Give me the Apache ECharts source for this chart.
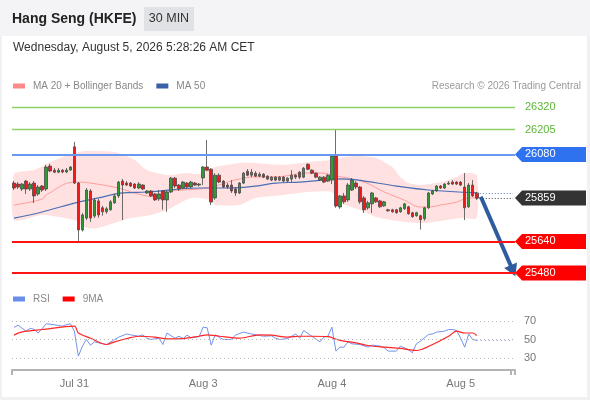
<!DOCTYPE html>
<html><head><meta charset="utf-8">
<script src="https://cdn.jsdelivr.net/npm/echarts@6/dist/echarts.min.js"></script>
<style>html,body{margin:0;padding:0;background:#fff}#c{width:590px;height:400px}</style>
</head><body><div id="c"></div>
<script>
// ---------- DATA ----------
const slotCount = 125;
const dayLabels = ['Jul 31', 'Aug 3', 'Aug 4', 'Aug 5'];
const dayStartIndex = [15, 47, 79, 111];

const opens = [25935,25930,25905,25945,25905,25935,25880,25920,25905,26021,26000,25990,26000,25991,26001,26118,25935,25698,25758,25895,25768,25845,25810,25790,25800,25835,25870,25945,25935,25935,25930,25910,25925,25885,25895,25880,25855,25895,25850,25890,25960,25925,25910,25935,25915,25935,25925,25961,26016,26005,25860,25975,25945,25925,25925,25905,25885,25935,25995,25975,25985,25970,25980,25970,25950,25965,25950,25965,25945,25955,25975,25990,25965,26030,26000,25985,25950,25965,25945,25950,26072,25814,25870,25850,25900,25935,25915,25860,25810,25830,25860,25845,25820,25800,25800,25800,25790,25805,25815,25785,25770,25770,25755,25810,25880,25895,25920,25910,25930,25940,25940,25940,25915,25815,25925,25885];
const closes = [25910,25915,25930,25905,25930,25870,25915,25900,26016,25996,25990,26000,25991,26001,26016,25935,25698,25774,25900,25758,25849,25774,25790,25805,25840,25870,25940,25925,25925,25920,25910,25930,25905,25895,25870,25850,25880,25850,25890,25960,25920,25905,25940,25915,25940,25925,25930,26016,26000,25839,25975,25940,25915,25915,25895,25885,25935,25985,25975,25990,25970,25980,25965,25955,25965,25950,25965,25945,25960,25975,25965,25965,26010,26005,25985,25965,25965,25940,25975,26072,25819,25870,25840,25925,25950,25915,25840,25800,25835,25885,25840,25815,25840,25795,25790,25785,25810,25830,25780,25765,25785,25750,25810,25885,25895,25920,25910,25930,25935,25930,25930,25925,25810,25925,25870,25859];
const lows = [25900,25905,25895,25880,25895,25834,25870,25890,25895,25990,25985,25985,25985,25985,25996,25930,25637,25690,25748,25738,25758,25760,25770,25780,25795,25830,25860,25748,25920,25915,25905,25905,25900,25880,25865,25845,25845,25800,25790,25885,25910,25895,25905,25905,25910,25920,25918,25925,25995,25824,25850,25935,25910,25905,25885,25870,25880,25930,25970,25965,25965,25965,25960,25950,25945,25945,25945,25940,25940,25940,25955,25955,25960,26000,25980,25960,25945,25935,25940,25930,25810,25805,25830,25840,25895,25905,25830,25784,25800,25784,25835,25810,25815,25790,25785,25780,25785,25800,25775,25760,25765,25700,25745,25805,25875,25890,25905,25905,25925,25925,25925,25920,25748,25810,25865,25850];
const highs = [25946,25940,25935,25951,25940,25945,25925,25925,26027,26032,26011,26011,26006,26011,26021,26143,25940,25784,25910,25905,25860,25855,25820,25815,25850,25880,25946,25956,25945,25940,25935,25940,25930,25900,25900,25885,25900,25900,25895,25966,25966,25930,25945,25940,25946,25940,25935,26021,26153,26011,25985,25985,25950,25935,25950,25915,25940,25991,26006,26006,25995,25990,25985,25975,25970,25970,25970,25970,25965,26000,25980,25995,26016,26035,26005,25990,25970,25970,25980,26077,26204,25875,25885,25935,25960,25945,25920,25870,25845,25890,25865,25850,25845,25805,25805,25805,25815,25835,25820,25790,25790,25775,25815,25890,25900,25925,25925,25935,25945,25950,25945,25945,25986,25935,25950,25890];

// indicator samples: [candle index, value]
const ma20 = [[0,25824],[7,25854],[8,25875],[15,25940],[16,25940],[19,25935],[26,25910],[29,25890],[33,25870],[35,25865],[37,25890],[42,25900],[46,25905],[50,25920],[55,25951],[60,25966],[65,25966],[69,25976],[72,25986],[76,25986],[80,25971],[87,25940],[92,25890],[97,25849],[101,25814],[103,25814],[106,25824],[110,25839],[113,25860],[115,25860]];
const ma50 = [[0,25758],[7,25789],[15,25834],[21,25860],[27,25885],[33,25890],[46,25910],[53,25910],[60,25920],[65,25935],[71,25940],[77,25951],[80,25956],[85,25951],[95,25920],[103,25900],[115,25885]];
const upperBand = [[0,25981],[5,26001],[9,26042],[15,26087],[18,26097],[25,26092],[30,26052],[33,26001],[38,25976],[43,25986],[46,25981],[50,26016],[56,26037],[60,26037],[67,26027],[73,26042],[79,26052],[82,26067],[86,26072],[90,26062],[94,26016],[96,25966],[98,25935],[101,25925],[106,25940],[110,25966],[112,25986],[115,25976]];
const lowerBand = [[0,25748],[7,25774],[15,25748],[18,25708],[21,25708],[29,25758],[34,25774],[38,25799],[44,25860],[49,25849],[50,25824],[56,25824],[60,25860],[67,25875],[73,25890],[79,25890],[81,25834],[86,25799],[90,25763],[97,25738],[102,25733],[106,25743],[111,25758],[115,25758]];

const rsi = [[0,63],[1,65.5],[3,59],[4,62],[5,61],[6,57],[8,67],[10,66],[12,64.4],[13,66],[14,67],[15,59],[16,32],[17,42.8],[18,50],[19,43.9],[20,47.5],[21,46.4],[23,44.6],[25,50],[26,52.5],[28,56],[29,55],[31,53.5],[32,55],[33,51.4],[34,50],[36,51.4],[37,44.6],[38,57],[40,51.4],[41,53.5],[42,51],[43,54.7],[44,52],[46,53],[47,63.3],[48,62.6],[49,43.9],[50,55],[52,50],[54,50],[55,54.7],[57,58],[59,56],[62,53.5],[64,54],[65,51.4],[66,50],[68,51],[69,53.5],[70,56],[71,51.4],[72,59.7],[74,53.5],[76,47.5],[77,52.5],[78,53.5],[79,63.3],[80,37.4],[81,41.7],[82,41.7],[83,47.5],[84,45.3],[86,44.6],[88,41.7],[89,43.9],[91,42.8],[92,41],[93,37.4],[95,37.4],[96,42.8],[98,39.2],[99,35.6],[100,45.3],[101,48.2],[103,55.4],[104,56],[105,58],[107,59],[108,60.8],[109,60.8],[110,59.7],[111,51.4],[112,41.7],[113,56],[114,50],[115,49]];
const rsiMa9 = [[0,54.7],[2,58.3],[7,60.8],[15,64.4],[16,57],[19,51.4],[23,44.6],[25,47.5],[28,51],[31,53.5],[35,52.5],[38,50.7],[42,51],[46,53.5],[48,55],[51,53.5],[56,51.4],[61,55],[64,54.7],[68,52.5],[71,53.5],[74,53.5],[78,53],[81,49],[85,46.4],[88,43.5],[92,41.7],[96,40.3],[100,38.1],[104,44.6],[108,53.5],[110,59],[112,57],[114,57],[115,54.3]];
const rsiLevels = [70, 50, 30];

const levelValues = [26320, 26205, 26080, 25859, 25640, 25480];
const levelKinds = ['res', 'res', 'pivot', 'last', 'sup', 'sup'];
const lastMa50 = 25882;
const arrowFrom = [116, 25866];
const arrowTo = [124, 25492];
const lastIndex = 115;

// ---------- STYLES ----------
const FONT = 'Arial, "Liberation Sans", sans-serif';
const levelStyles = {
  res:   { line: '#8fd064', width: 1.3, box: null,      text: '#5db536' },
  pivot: { line: '#6a97f0', width: 2, box: '#2f72f0', text: '#fff' },
  last:  { line: null,      width: 0, box: '#333333', text: '#fff' },
  sup:   { line: '#ff1414', width: 2, box: '#ff0000', text: '#fff' }
};

const categories = Array.from({ length: slotCount }, (_, i) => {
  const k = dayStartIndex.indexOf(i);
  return k >= 0 ? dayLabels[k] : '';
});
const candleData = opens.map((o, i) => [o, closes[i], lows[i], highs[i]]);

// horizontal level lines, drawn as a separate line-less series' markLine
const levelLines = [];
levelValues.forEach((v, k) => {
  const st = levelStyles[levelKinds[k]];
  if (st.line) levelLines.push({ yAxis: v, lineStyle: { color: st.line, width: st.width, type: 'solid', opacity: 1 } });
});
const pointerLines = [
  [{ coord: [lastIndex, levelValues[3]], lineStyle: { color: '#444', width: 1, type: [1, 2] } }, { coord: [slotCount - 1, levelValues[3]] }],
  [{ coord: [lastIndex, lastMa50], lineStyle: { color: '#5b80c4', width: 1, type: [1, 2] } }, { coord: [slotCount - 1, lastMa50] }],
  [{ coord: arrowFrom, symbol: 'none', lineStyle: { color: '#2e5c9e', width: 4, type: 'solid' } }, { coord: arrowTo, symbol: 'triangle', symbolSize: [14, 12] }]
];

function renderBand(params, api) {
  const pts = [];
  upperBand.forEach(p => pts.push(api.coord(p)));
  for (let k = lowerBand.length - 1; k >= 0; k--) pts.push(api.coord(lowerBand[k]));
  return { type: 'polygon', shape: { points: pts, smooth: 0.2 }, style: { fill: 'rgba(255,165,165,0.33)' } };
}
function renderLevelTag(params, api) {
  const value = api.value(1);
  const st = levelStyles[levelKinds[api.value(2)]];
  const cs = params.coordSys;
  const x0 = cs.x + cs.width;
  const y = api.coord([0, value])[1];
  const children = [];
  if (st.box) children.push({ type: 'polygon', shape: { points: [[x0, y], [x0 + 7, y - 7.5], [x0 + 71, y - 7.5], [x0 + 71, y + 7.5], [x0 + 7, y + 7.5]] }, style: { fill: st.box } });
  children.push({ type: 'text', style: { text: String(value), x: x0 + 10, y: y, verticalAlign: 'middle', fill: st.text, font: '11px ' + FONT } });
  return { type: 'group', children };
}

const chart = echarts.init(document.getElementById('c'), null, { renderer: 'canvas' });
chart.setOption({
  animation: false,
  backgroundColor: '#fff',
  textStyle: { fontFamily: FONT },
  graphic: [
    { type: 'rect', z: -10, shape: { x: 0, y: 0, width: 590, height: 400 }, style: { fill: '#f1f1f3' } },
    { type: 'rect', z: -9, shape: { x: 2, y: 36, width: 585, height: 361 }, style: { fill: '#fff' } },
    { type: 'rect', z: -9, shape: { x: 0, y: 0, width: 590, height: 36 }, style: { fill: '#f4f4f6' } },
    { type: 'text', x: 12, y: 19, style: { text: 'Hang Seng (HKFE)', font: 'bold 14px ' + FONT, fill: '#222', verticalAlign: 'middle' } },
    { type: 'rect', shape: { x: 144, y: 7, width: 50, height: 24 }, style: { fill: '#e1e2e5' } },
    { type: 'text', x: 169, y: 19, style: { text: '30 MIN', font: '12.5px ' + FONT, fill: '#333', align: 'center', verticalAlign: 'middle' } },
    { type: 'text', x: 13, y: 48, style: { text: 'Wednesday, August 5, 2026 5:28:26 AM CET', font: '12px ' + FONT, fill: '#333', verticalAlign: 'middle' } },
    { type: 'text', x: 581, y: 86, style: { text: 'Research \u00a9 2026 Trading Central', font: '10px ' + FONT, fill: '#9a9a9a', align: 'right', verticalAlign: 'middle' } }
  ],
  legend: [
    { left: 13, top: 81, padding: 0, itemWidth: 12, itemHeight: 5, itemGap: 13, icon: 'rect', selectedMode: false,
      textStyle: { color: '#888', fontSize: 10, fontFamily: FONT, padding: [0, 0, 0, 3] },
      data: [{ name: 'MA 20 + Bollinger Bands', itemStyle: { color: '#ff8a8a' } }, { name: 'MA 50', itemStyle: { color: '#3a60a8' } }] },
    { left: 13, top: 294, padding: 0, itemWidth: 12, itemHeight: 5, itemGap: 13, icon: 'rect', selectedMode: false,
      textStyle: { color: '#888', fontSize: 10, fontFamily: FONT, padding: [0, 0, 0, 3] },
      data: [{ name: 'RSI', itemStyle: { color: '#6a8de8' } }, { name: '9MA', itemStyle: { color: '#ff0000' } }] }
  ],
  grid: [
    { left: 12, right: 75, top: 97, height: 186 },
    { left: 12, right: 75, top: 311.75, height: 58.25 }
  ],
  xAxis: [
    { type: 'category', gridIndex: 0, data: categories, boundaryGap: true, show: false },
    { type: 'category', gridIndex: 1, data: categories, boundaryGap: true,
      axisLine: { show: true, lineStyle: { color: '#b4b4b4', width: 2 } },
      axisTick: { show: true, interval: (i) => i === 0 || i === slotCount - 1, length: 5, lineStyle: { color: '#b4b4b4', width: 2 } },
      axisLabel: { interval: 0, color: '#777', fontSize: 11, margin: 8, fontFamily: FONT },
      splitLine: { show: false } }
  ],
  yAxis: [
    { type: 'value', gridIndex: 0, min: 25430, max: 26370, show: false, splitLine: { show: false } },
    { type: 'value', gridIndex: 1, min: 17, max: 80, show: false, splitLine: { show: false } }
  ],
  series: [
    { type: 'custom', name: 'band', xAxisIndex: 0, yAxisIndex: 0, renderItem: renderBand, data: [[0, 25900]], z: 1, silent: true },
    { type: 'line', name: 'levels', xAxisIndex: 0, yAxisIndex: 0, data: [], z: 2, silent: true,
      markLine: { silent: true, symbol: 'none', label: { show: false }, data: levelLines } },
    { type: 'line', name: 'MA 20 + Bollinger Bands', xAxisIndex: 0, yAxisIndex: 0, data: ma20, smooth: 0.4, showSymbol: false, symbol: 'none',
      lineStyle: { color: '#ff9c9c', width: 1 }, itemStyle: { color: '#ff8a8a' }, z: 2 },
    { type: 'line', name: 'MA 50', xAxisIndex: 0, yAxisIndex: 0, data: ma50, smooth: 0.4, showSymbol: false, symbol: 'none',
      lineStyle: { color: '#4a6fb5', width: 1.2 }, itemStyle: { color: '#3a60a8' }, z: 2 },
    { type: 'candlestick', name: 'price', xAxisIndex: 0, yAxisIndex: 0, data: candleData, barWidth: 3, z: 3,
      itemStyle: { color: '#2f9a36', color0: '#ee1a1a', borderColor: '#4a4a4a', borderColor0: '#4a4a4a', borderWidth: 0.8 },
      markLine: { silent: true, symbol: 'none', label: { show: false }, z: 4, data: pointerLines } },
    { type: 'custom', name: 'tags', xAxisIndex: 0, yAxisIndex: 0, renderItem: renderLevelTag, silent: true, z: 6,
      encode: { x: 0, y: 1 }, data: levelValues.map((v, k) => [0, v, k]) },
    { type: 'line', name: 'RSI', xAxisIndex: 1, yAxisIndex: 1, data: rsi, showSymbol: false, symbol: 'none',
      lineStyle: { color: '#7393ec', width: 1 }, itemStyle: { color: '#6a8de8' }, z: 3,
      markLine: { silent: true, symbol: 'none',
        label: { show: true, position: 'end', distance: 9, color: '#777', fontSize: 11, fontFamily: FONT, formatter: (p) => String(p.value) },
        lineStyle: { color: '#b8b8b8', width: 1, type: [1, 3] },
        data: rsiLevels.map(v => ({ yAxis: v })).concat([[{ coord: [lastIndex, rsi[rsi.length - 1][1]], label: { show: false }, lineStyle: { color: '#7393ec', type: [1, 3] } }, { coord: [slotCount - 1, rsi[rsi.length - 1][1]] }]]) } },
    { type: 'line', name: '9MA', xAxisIndex: 1, yAxisIndex: 1, data: rsiMa9, smooth: 0.3, showSymbol: false, symbol: 'none',
      lineStyle: { color: '#ff2525', width: 1.2 }, itemStyle: { color: '#ff0000' }, z: 4 }
  ]
});
</script></body></html>
